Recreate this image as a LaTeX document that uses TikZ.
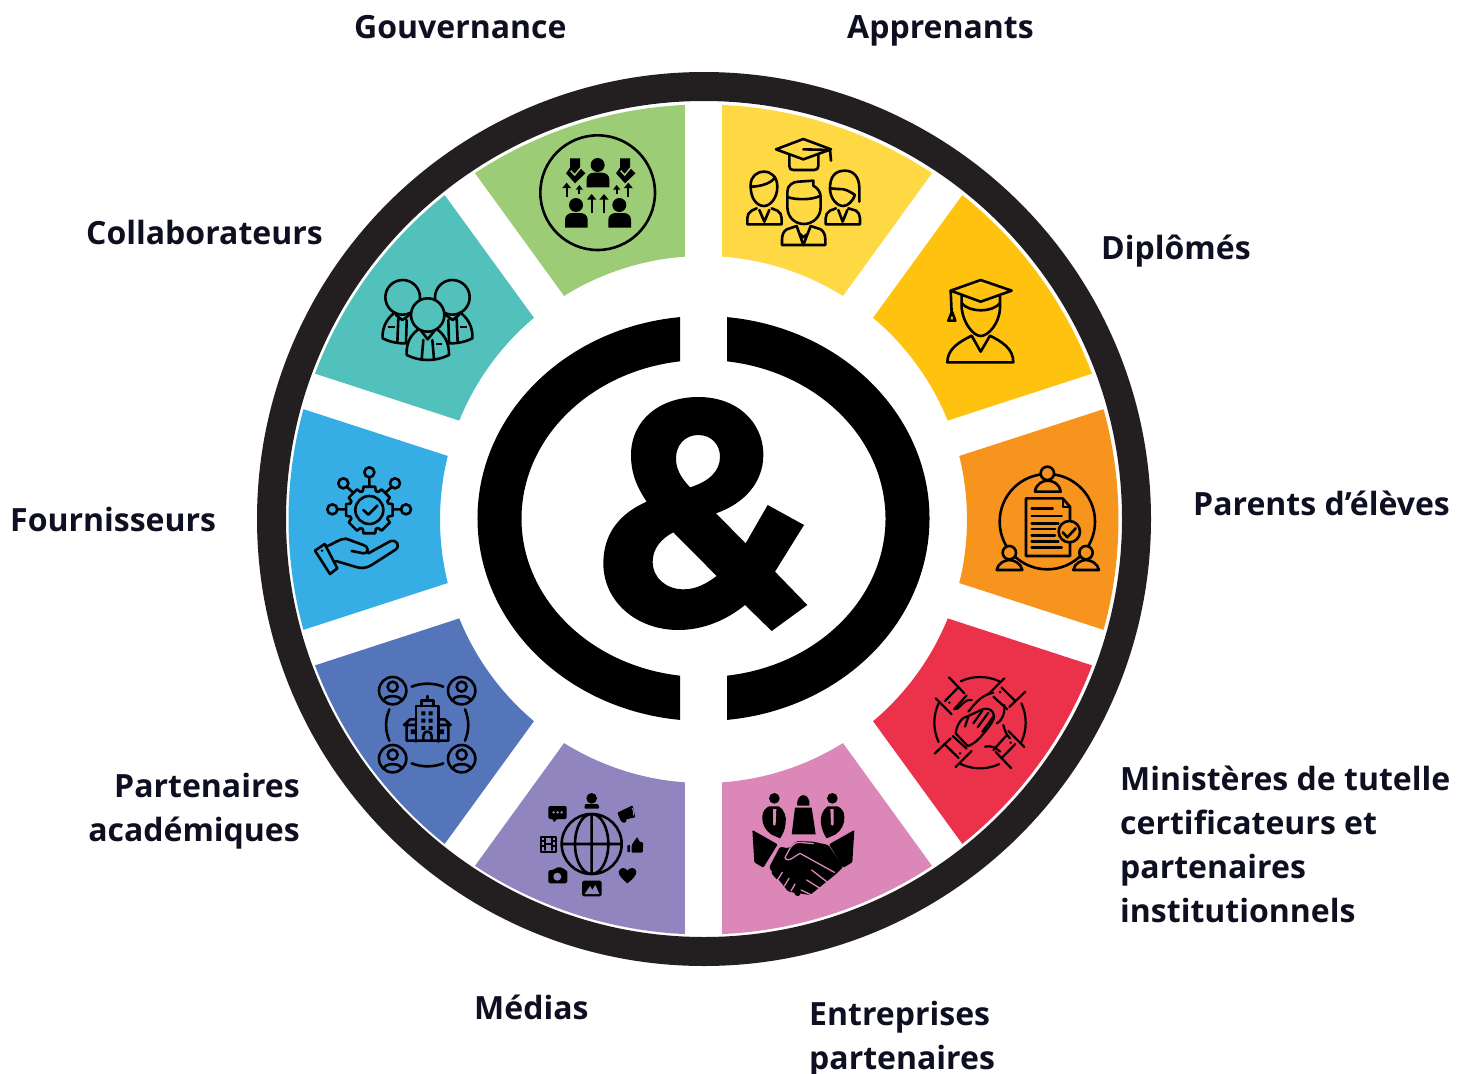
\documentclass[tikz,border=0pt]{standalone}
\usepackage{fontspec}
\setmainfont{Open Sans}
\definecolor{ringc}{HTML}{231F20}
\definecolor{cgou}{HTML}{9CCD76}
\definecolor{capp}{HTML}{FFD944}
\definecolor{cdip}{HTML}{FFC20E}
\definecolor{cpar}{HTML}{F7941E}
\definecolor{cmin}{HTML}{EC314B}
\definecolor{cent}{HTML}{DB87B8}
\definecolor{cmed}{HTML}{9085BF}
\definecolor{cpac}{HTML}{5575BA}
\definecolor{cfou}{HTML}{36ADE4}
\definecolor{ccol}{HTML}{52C1BC}
\definecolor{labc}{HTML}{0F0F22}
\tikzset{
  lab/.style={font=\fontsize{32}{44}\selectfont\bfseries,text=labc,inner sep=0pt},
  icon/.style={draw=black,line width=2.6pt,line cap=round,line join=round},
  thinicon/.style={icon,line width=2.2pt},
  zoomed/.style={scale=0.33333}
}
\newcommand{\mywedge}[3]{%
  \pgfmathsetmacro{\ao}{#1+2.58}\pgfmathsetmacro{\ai}{#1+4.05}%
  \pgfmathsetmacro{\bo}{#2-2.58}\pgfmathsetmacro{\bi}{#2-4.05}%
  \fill[#3] (\ai:263.5pt) -- (\ao:415pt) arc[start angle=\ao,end angle=\bo,radius=415pt]
    -- (\bi:263.5pt) arc[start angle=\bi,end angle=\ai,radius=263.5pt] -- cycle;}
\begin{document}
\begin{tikzpicture}[x=1pt,y=1pt,yscale=-1]
\useasboundingbox (0,0) rectangle (1469,1073);
% ring
\fill[ringc,even odd rule] (704,519) circle[radius=447pt] (704,519) circle[radius=418pt];
% wedges
\begin{scope}[shift={(703.5,519.5)}]
\mywedge{-90}{-54}{capp}
\mywedge{-54}{-18}{cdip}
\mywedge{-18}{18}{cpar}
\mywedge{18}{54}{cmin}
\mywedge{54}{90}{cent}
\mywedge{90}{126}{cmed}
\mywedge{126}{162}{cpac}
\mywedge{162}{198}{cfou}
\mywedge{198}{234}{ccol}
\mywedge{234}{270}{cgou}
\end{scope}
% brackets
\begin{scope}[shift={(703.5,518.5)}]
\fill[black] ({226*cos(264.03)},{202.5*sin(264.03)}) arc[x radius=226pt,y radius=202.5pt,start angle=264.03,end angle=95.97]
  -- ({182*cos(97.42)},{158.5*sin(97.42)}) arc[x radius=182pt,y radius=158.5pt,start angle=97.42,end angle=262.58] -- cycle;
\fill[black] ({226*cos(-84.03)},{202.5*sin(-84.03)}) arc[x radius=226pt,y radius=202.5pt,start angle=-84.03,end angle=84.03]
  -- ({182*cos(82.58)},{158.5*sin(82.58)}) arc[x radius=182pt,y radius=158.5pt,start angle=82.58,end angle=-82.58] -- cycle;
\end{scope}
% ampersand
\begin{scope}[shift={(470,300)},zoomed]
\fill[black,even odd rule] (893,615) -- (1002,675) -- (915,815) -- (1012,915) -- (905,993) -- (825,915)
 .. controls (770,960) and (700,990) .. (625,990)
 .. controls (500,990) and (400,905) .. (400,790)
 .. controls (400,700) and (450,640) .. (530,605)
 .. controls (500,560) and (483,520) .. (483,465)
 .. controls (483,360) and (570,291) .. (685,291)
 .. controls (800,291) and (880,365) .. (880,465)
 .. controls (880,545) and (825,610) .. (738,640)
 -- (827,730) -- cycle
 (660,562) .. controls (630,530) and (618,505) .. (618,475)
 .. controls (618,435) and (645,405) .. (685,405)
 .. controls (725,405) and (750,435) .. (750,470)
 .. controls (750,515) and (715,545) .. (660,562) -- cycle
 (610,697) -- (740,828) .. controls (710,850) and (680,868) .. (640,868)
 .. controls (590,868) and (548,835) .. (548,785)
 .. controls (548,745) and (575,715) .. (610,697) -- cycle;
\end{scope}
% --- Gouvernance icon
\begin{scope}[shift={(530,120)},zoomed]
\draw[icon] (203,218) circle[radius=172pt];
\fill[black] (203,135) circle[radius=21pt] (138,255) circle[radius=21pt] (268,255) circle[radius=21pt];
\foreach \px/\py in {170/158,105/279,235/279}{
 \begin{scope}[shift={(\px,\py)}]
 \fill[black] (0,44) -- (0,20) .. controls (0,8) and (10,0) .. (22,0) -- (46,0) .. controls (58,0) and (68,8) .. (68,20) -- (68,44) -- cycle;
 \end{scope}}
\foreach \dx in {0,150}{
  \fill[black] (120+\dx,115) -- (150+\dx,115) -- (150+\dx,143) -- (166+\dx,160) -- (135+\dx,190) -- (108+\dx,160) -- (120+\dx,143) -- cycle;
  \draw[cgou,line width=1.5pt] (122+\dx,152) -- (134+\dx,165) -- (152+\dx,143);
}
\foreach \x/\ya/\yb/\h in {110/230/200/10,148/222/205/8,260/222/205/8,295/230/200/10,185/280/235/11,222/280/235/11}{
  \draw[black,line width=2.3pt] (\x,\ya) -- (\x,\yb);
  \fill[black] (\x-\h-3,\yb+4) -- (\x,\yb-\h-2) -- (\x+\h+3,\yb+4) -- cycle;
}
\end{scope}
% --- Apprenants icon
\begin{scope}[shift={(530,120)},zoomed]
\draw[icon] (738,88) -- (820,57) -- (903,88) -- (820,118) -- cycle;
\draw[icon] (778,105) -- (778,138) .. controls (778,146) and (782,150) .. (790,150) -- (853,150) .. controls (861,150) and (865,146) .. (865,138) -- (865,105);
\draw[icon] (820,88) -- (900,90) -- (903,122);
% centre
\draw[icon] (772,232) -- (772,215) .. controls (772,195) and (790,185) .. (805,185) -- (850,182) -- (850,197) .. controls (865,205) and (872,218) .. (872,232) -- (872,260) .. controls (872,295) and (845,312) .. (822,312) .. controls (798,312) and (772,295) .. (772,260) -- cycle;
\draw[icon] (775,232) .. controls (800,240) and (845,240) .. (870,228);
\draw[icon] (800,318) -- (770,328) .. controls (760,335) and (756,345) .. (756,360) -- (756,375) -- (886,375) -- (886,360) .. controls (886,345) and (882,335) .. (872,328) -- (842,318);
\draw[icon] (800,318) -- (820,375) -- (842,318) (808,340) -- (820,352) -- (834,340);
% left
\draw[icon] (662,195) .. controls (662,170) and (680,155) .. (702,155) .. controls (725,155) and (742,172) .. (742,200) .. controls (742,235) and (720,258) .. (702,258) .. controls (680,258) and (662,235) .. (662,200) -- cycle;
\draw[icon] (662,200) .. controls (690,200) and (725,190) .. (735,172);
\draw[icon] (680,265) -- (665,272) .. controls (656,276) and (652,285) .. (652,295) -- (652,313) -- (755,313) -- (755,295) .. controls (755,285) and (750,276) .. (742,272) -- (725,265);
\draw[icon] (688,270) -- (703,305) -- (718,270);
% right
\draw[icon] (900,205) .. controls (900,170) and (915,152) .. (945,152) .. controls (970,152) and (988,170) .. (988,205) -- (988,245);
\draw[icon] (900,205) .. controls (900,235) and (920,258) .. (940,258) .. controls (955,258) and (970,240) .. (975,225) .. controls (960,215) and (945,205) .. (925,207) -- (900,205);
\draw[icon] (918,265) -- (900,272) .. controls (892,276) and (887,285) .. (887,295) -- (887,313) -- (990,313) -- (990,295) .. controls (990,285) and (985,276) .. (978,272) -- (955,265);
\draw[icon] (925,270) -- (938,305) -- (952,270);
\end{scope}
% --- Diplomes icon
\begin{scope}[shift={(930,270)},zoomed]
\draw[icon] (62,62) -- (152,30) -- (245,62) -- (152,95) -- cycle;
\draw[icon] (62,62) -- (65,130);
\draw[icon] (55,152) -- (66,125) -- (76,152) -- cycle;
\draw[icon] (95,78) -- (95,115) .. controls (100,160) and (130,198) .. (152,198) .. controls (175,198) and (208,160) .. (210,115) -- (210,78);
\draw[icon] (95,100) .. controls (120,128) and (185,128) .. (210,100);
\draw[icon] (52,277) -- (250,277) .. controls (250,235) and (215,215) .. (180,197) -- (152,245) -- (125,197) .. controls (90,215) and (52,235) .. (52,277) -- cycle;
\end{scope}
% --- Parents icon
\begin{scope}[shift={(930,270)},zoomed]
\draw[icon] (352,755) circle[radius=143pt];
\draw[icon,fill=cpar] (352,610) circle[radius=20pt];
\draw[icon,fill=cpar] (315,665) .. controls (318,640) and (340,632) .. (352,632) .. controls (368,632) and (388,640) .. (392,665) -- cycle;
\draw[icon,fill=cpar] (238,848) circle[radius=20pt];
\draw[icon,fill=cpar] (200,900) .. controls (203,880) and (225,870) .. (238,870) .. controls (252,870) and (273,880) .. (277,900) -- cycle;
\draw[icon,fill=cpar] (468,848) circle[radius=20pt];
\draw[icon,fill=cpar] (430,900) .. controls (433,880) and (455,870) .. (468,870) .. controls (482,870) and (503,880) .. (507,900) -- cycle;
\draw[icon] (288,685) -- (398,685) -- (420,710) -- (420,858) -- (288,858) -- cycle;
\draw[thinicon] (398,688) -- (398,710) -- (418,710);
\foreach \y/\x in {716/368,738/395,760/385,777/376,796/375,814/385,833/395}{\draw[icon] (305,\y) -- (\x,\y);}
\draw[icon,fill=cpar] (418,785) circle[radius=32pt];
\draw[icon] (398,787) -- (412,802) -- (437,775);
\end{scope}
% --- Fournisseurs icon
\begin{scope}[shift={(300,270)},zoomed]
\begin{scope}[shift={(208,720)}]
\draw[icon] ({-14}:72pt) \foreach \a in {0,45,...,315}{ -- ({\a-14}:72pt) -- ({\a+14}:72pt) -- ({\a+19}:60pt) -- ({\a+26}:60pt)} -- cycle;
\draw[icon] (0,0) circle[radius=42pt];
\draw[icon] (-18,0) -- (-3,14) -- (24,-13);
\end{scope}
\draw[icon] (208,622) -- (208,648) (112,718) -- (136,718) (304,718) -- (280,718) (142,652) -- (160,668) (274,652) -- (256,668);
\draw[icon] (208,607) circle[radius=15pt] (97,718) circle[radius=15pt] (318,718) circle[radius=15pt] (130,640) circle[radius=15pt] (285,640) circle[radius=15pt];
\draw[icon] (45,842) -- (74,822) -- (112,895) -- (90,912) -- cycle;
\draw[icon] (78,830) .. controls (100,822) and (118,806) .. (138,806) -- (190,825) .. controls (210,832) and (205,852) .. (190,850) -- (155,843);
\draw[icon] (205,850) -- (270,814) .. controls (292,806) and (302,830) .. (285,840) -- (215,885) .. controls (195,897) and (180,895) .. (165,890) -- (108,873);
\fill[black] (66,842) circle[radius=4pt];
\end{scope}
% --- Collaborateurs icon
\begin{scope}[shift={(370,270)},zoomed]
\draw[icon] (75,128) .. controls (55,140) and (35,170) .. (38,205) .. controls (70,222) and (110,222) .. (125,218);
\draw[icon] (85,145) -- (82,218) (110,150) -- (108,218) (78,135) -- (97,150) -- (118,135);
\fill[black] (54,169) rectangle (74,175);
\draw[icon] (270,128) .. controls (290,140) and (310,170) .. (307,205) .. controls (275,222) and (235,222) .. (220,218);
\draw[icon] (260,145) -- (263,218) (235,150) -- (237,218) (267,135) -- (248,150) -- (227,135);
\fill[black] (271,169) rectangle (291,175);
\draw[icon] (98,82) circle[radius=52pt] (247,82) circle[radius=52pt];
\draw[icon,fill=ccol] (150,175) .. controls (125,190) and (108,215) .. (110,255) .. controls (150,275) and (197,275) .. (237,255) .. controls (238,215) and (220,190) .. (197,175) -- cycle;
\draw[icon] (160,210) -- (155,268) (187,210) -- (192,268) (150,178) -- (173,208) -- (197,178);
\fill[black] (197,219) rectangle (217,225);
\draw[icon,fill=ccol] (173,135) circle[radius=50pt];
\end{scope}
% --- Ministeres icon
\begin{scope}[shift={(925,670)},zoomed]
\begin{scope}[shift={(165,158)}]
\foreach \r in {0,90,180,270}{
 \begin{scope}[rotate=\r]
 \draw[thinicon] (-115:137pt) arc[start angle=-115,end angle=-65,radius=137pt];
 \draw[thinicon] (-93,-136) -- (-47,-88) (-133,-73) -- (-85,-25);
 \draw[thinicon] (-65,-106) -- (-106,-64) (-40,-82) -- (-78,-40);
 \fill[black] (-92,-60) circle[radius=4pt];
 \end{scope}}
\end{scope}
\draw[thinicon,fill=cmin] (92,190) .. controls (95,165) and (110,140) .. (130,138) -- (172,118) .. controls (190,112) and (205,120) .. (207,138) .. controls (208,155) and (180,185) .. (165,203) .. controls (150,218) and (140,225) .. (128,228) -- cycle;
\draw[thinicon] (145,160) -- (172,122) (158,172) -- (190,128) (172,185) -- (205,140) (120,170) -- (130,140);
\draw[thinicon] (130,125) .. controls (155,95) and (170,75) .. (205,68);
\draw[thinicon] (215,160) .. controls (235,150) and (240,125) .. (238,105);
\draw[thinicon] (235,165) .. controls (240,185) and (245,195) .. (255,205);
\draw[thinicon] (180,230) .. controls (200,225) and (215,235) .. (225,245);
\draw[thinicon] (90,115) .. controls (100,125) and (115,85) .. (140,90);
\end{scope}
% --- Entreprises icon
\begin{scope}[shift={(745,785)},zoomed]
\fill[black] (88,40) circle[radius=16pt] (262,40) circle[radius=16pt];
\fill[black] (157,62) .. controls (152,20) and (198,20) .. (193,62) -- cycle;
\fill[black] (150,68) -- (200,68) -- (212,148) -- (140,148) -- cycle;
\foreach \s/\t in {0/0,1/350}{
 \begin{scope}[shift={(\t,0)},xscale={1-2*\s}]
 \fill[black] (72,64) -- (102,64) .. controls (118,75) and (125,95) .. (122,115) .. controls (120,135) and (112,150) .. (105,160) -- (78,148) .. controls (60,135) and (50,115) .. (52,95) .. controls (52,80) and (60,70) .. (72,64) -- cycle;
 \fill[cent] (84,72) -- (94,72) -- (92,118) -- (88,122) -- (84,118) -- cycle;
 \fill[black,rounded corners=1pt] (22,135) -- (98,178) -- (55,248) -- (28,232) -- cycle;
 \end{scope}}
\fill[black,rounded corners=1.5pt] (105,185) -- (72,248) -- (130,320) -- (195,330) -- (272,268) -- (295,245) -- (250,180) -- (205,170) -- (155,168) -- (130,190) -- cycle;
\draw[black,line width=5.5pt,line cap=round] (88,262) -- (100,276) (108,270) -- (130,295) (130,290) -- (150,312) (150,312) -- (158,325);
\draw[cent,line width=1.3pt,line cap=round,line join=round] (120,218) .. controls (135,190) and (140,172) .. (165,172) -- (205,176) (120,218) .. controls (130,235) and (145,215) .. (165,205) -- (268,262) (200,255) -- (245,290) (185,285) -- (225,310) (168,315) -- (200,330);
\draw[cent,line width=1.3pt,line cap=round] (112,262) -- (98,284) (132,280) -- (118,303) (150,297) -- (138,318);
\end{scope}
% --- Medias icon
\begin{scope}[shift={(370,670)},zoomed]
\draw[icon] (665,522) circle[radius=90pt] (665,522) ellipse[x radius=50pt,y radius=90pt] (665,432) -- (665,612) (575,522) -- (755,522);
\fill[black] (665,385) circle[radius=16pt];
\fill[black,rounded corners=1pt] (643,416) -- (645,402) -- (685,402) -- (688,416) -- cycle;
\fill[black,rounded corners=2pt] (535,408) -- (590,408) -- (590,447) -- (535,447) -- cycle;
\fill[black] (546,445) -- (552,456) -- (564,445) -- cycle;
\fill[cmed] (551,427) circle[radius=4pt] (563,427) circle[radius=4pt] (575,427) circle[radius=4pt];
\fill[black,rounded corners=1pt] (742,428) -- (788,406) -- (796,442) -- (768,448) -- (768,458) -- (757,458) -- (750,448) -- cycle;
\draw[cmed,line width=1pt] (786,414) .. controls (790,418) and (792,430) .. (790,436);
\draw[thinicon,line width=1.8pt] (512,500) rectangle (558,545) (524,505) -- (524,540) (546,505) -- (546,540);
\draw[thinicon,line width=1.8pt] (516,512) -- (522,512) (516,528) -- (522,528) (548,512) -- (554,512) (548,528) -- (554,528) (526,522) -- (544,522);
\fill[black,rounded corners=0.7pt] (772,525) rectangle (780,546);
\fill[black,rounded corners=1pt] (785,525) -- (802,500) -- (808,515) -- (820,518) -- (818,548) -- (785,548) -- cycle;
\fill[black,rounded corners=1.7pt] (535,600) -- (552,600) -- (558,592) -- (578,592) -- (582,600) -- (592,600) -- (592,640) -- (535,640) -- cycle;
\fill[cmed] (562,620) circle[radius=12pt];
\fill[black] (772,640) .. controls (755,625) and (745,615) .. (746,605) .. controls (750,590) and (768,592) .. (772,602) .. controls (778,592) and (797,590) .. (799,605) .. controls (800,615) and (788,628) .. (772,640) -- cycle;
\fill[black,rounded corners=1.7pt] (636,632) rectangle (695,679);
\fill[cmed] (644,672) -- (660,648) -- (667,660) -- (676,645) -- (688,672) -- cycle;
\end{scope}
% --- Partenaires icon
\begin{scope}[shift={(370,670)},zoomed]
\foreach \cx/\cy in {68/62,275/62,68/266,275/266}{
 \begin{scope}[shift={(\cx,\cy)}]
 \draw[icon] (0,0) circle[radius=41pt] (0,-12) circle[radius=15pt];
 \draw[icon] (-26,30) .. controls (-26,12) and (26,12) .. (26,30);
 \end{scope}}
\draw[icon] (125,50) .. controls (155,38) and (190,38) .. (220,50);
\draw[icon] (125,280) .. controls (155,292) and (190,292) .. (220,280);
\draw[icon] (58,118) .. controls (45,150) and (45,180) .. (58,212);
\draw[icon] (285,118) .. controls (298,150) and (298,180) .. (285,212);
\draw[icon] (172,78) -- (172,90) (155,108) -- (155,92) -- (190,92) -- (190,108);
\draw[icon] (138,215) -- (138,108) -- (205,108) -- (205,215);
\draw[icon] (102,165) -- (120,148) -- (138,148) (102,165) -- (138,165) (110,165) -- (110,212) -- (235,212) -- (235,165) (242,165) -- (224,148) -- (205,148) (205,165) -- (242,165);
\draw[icon] (160,212) -- (160,198) .. controls (160,180) and (185,180) .. (185,198) -- (185,212);
\fill[black] \foreach \x in {154,176}{\foreach \y in {124,146,168}{ (\x,\y) rectangle +(12,12)}};
\fill[black] (122,178) rectangle +(14,14) (208,178) rectangle +(14,14);
\end{scope}
% labels
\node[lab,anchor=base west] (gouvernance) at (354,38) {Gouvernance};
\node[lab,anchor=base west] (apprenants) at (847,38) {Apprenants};
\node[lab,anchor=base west] (diplomes) at (1101,259) {Diplômés};
\node[lab,anchor=base west] (parents) at (1193,515) {Parents d’élèves};
\node[lab,anchor=west,align=left] (ministeres) at (1120,844) {Ministères de tutelle\\certificateurs et\\partenaires\\institutionnels};
\node[lab,anchor=west,align=left] (entreprises) at (809,1039) {Entreprises\\partenaires};
\node[lab,anchor=base west] (medias) at (474,1019) {Médias};
\node[lab,anchor=east,align=right] (partenaires) at (300,811) {Partenaires\\académiques};
\node[lab,anchor=base west] (fournisseurs) at (10,531) {Fournisseurs};
\node[lab,anchor=base west] (collaborateurs) at (86,244) {Collaborateurs};
\end{tikzpicture}
\end{document}
